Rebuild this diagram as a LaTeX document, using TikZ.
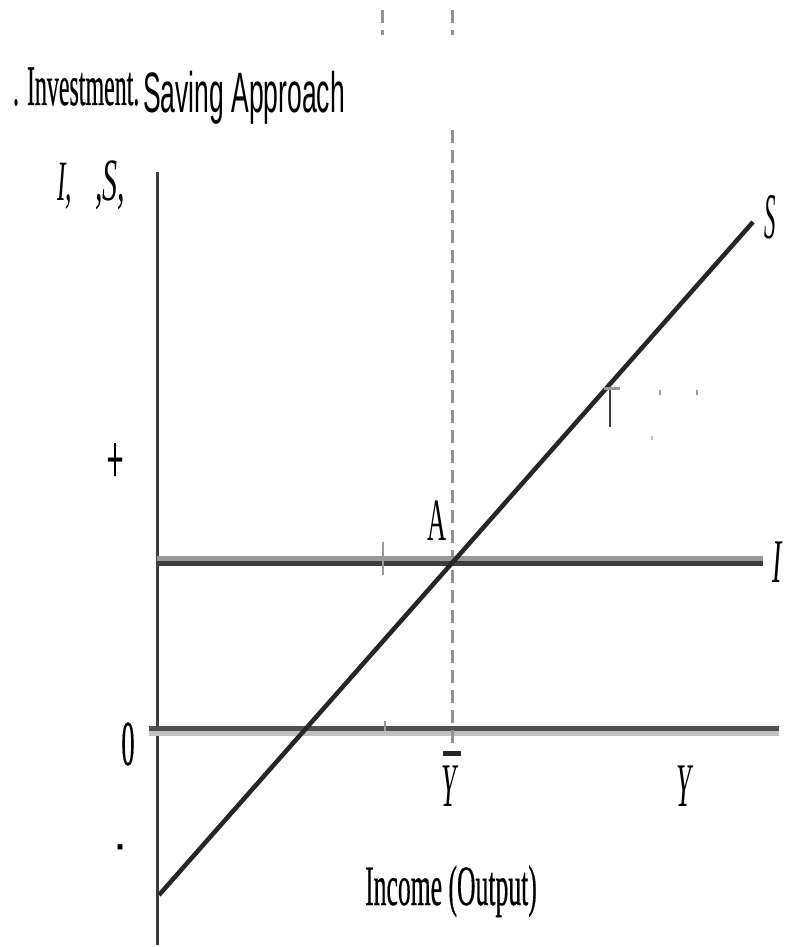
\documentclass[tikz,border=0pt]{standalone}
\usepackage{fontspec}
\setmainfont{Liberation Serif}
\newfontfamily\sansf{Liberation Sans}
\newfontfamily\serifheavy[FakeBold=0.6]{Liberation Serif}
\newcommand\cz[3]{\scalebox{#1}[1]{\fontsize{#2}{#2}\selectfont #3}}
\definecolor{darkln}{HTML}{3D3D3D}
\definecolor{lightln}{HTML}{9A9A9A}
\definecolor{paleln}{HTML}{C0C0C0}
\definecolor{sln}{HTML}{262626}
\tikzset{
  lbl/.style={inner sep=0pt, outer sep=0pt, anchor=base},
  dashln/.style={draw=lightln!95!black, line width=3pt, dash pattern=on 13pt off 7pt},
  tickln/.style={draw=lightln, line width=2pt},
}
\begin{document}
\begin{tikzpicture}[x=1pt,y=-1pt]
\useasboundingbox (0,0) rectangle (784,947);
% named coordinates
\coordinate (axT) at (157,172);
\coordinate (axB) at (157,945);
\coordinate (iL) at (157,0);
\coordinate (iR) at (763,0);
\coordinate (zL) at (149,0);
\coordinate (zR) at (779,0);
\coordinate (sA) at (159,895);
\coordinate (sB) at (753,222);
% vertical axis
\draw[darkln, line width=3pt] (axT) -- (axB);
% I line (gray top, dark bottom)
\draw[lightln, line width=5pt] (iL |- 0,558.5) -- (iR |- 0,558.5);
\draw[darkln, line width=5pt] (iL |- 0,563.5) -- (iR |- 0,563.5);
% zero line (dark top, pale bottom)
\draw[darkln!90, line width=5pt] (zL |- 0,728.5) -- (zR |- 0,728.5);
\draw[paleln, line width=5pt] (zL |- 0,733.5) -- (zR |- 0,733.5);
% dashed guide lines
\draw[dashln] (452,10) -- (452,35);
\draw[dashln] (452,130) -- (452,748);
\draw[dashln] (382,10) -- (382,35);
% small ticks
\draw[tickln] (383,542) -- (383,575);
\draw[tickln] (385,721) -- (385,731);
% S line
\draw[sln, line width=4.5pt] (sA) -- (sB);
% small mark on S line
\draw[darkln, line width=2pt] (610,387) -- (610,427);
\draw[lightln, line width=3pt] (604,388) -- (620,388);
\fill[lightln] (659,390) rectangle (661,395);
\fill[lightln] (696,390) rectangle (698,395);
\fill[lightln!60] (651,436) rectangle (653,440);
% bar over Y
\draw[sln, line width=5pt] (443,753.5) -- (461,753.5);
% labels
\node[lbl, anchor=base west] (t1) at (13,105) {\cz{0.42}{57pt}{\serifheavy . Investment.}};
\node[lbl, anchor=base west] (t2) at (143,113) {\cz{0.465}{57pt}{\sansf Saving Approach}};
\node[lbl, anchor=base west] (yl1) at (57,200) {\cz{0.45}{57pt}{\itshape I,}};
\node[lbl, anchor=base west] (yl2) at (95,200) {\cz{0.5}{60pt}{\itshape ,S,}};
\node[inner sep=0pt] (plus) at (115,463) {\cz{0.43}{70pt}{\serifheavy +}};
\node[lbl] (zero) at (128,765) {\cz{0.41}{64pt}{\serifheavy 0}};
\node[lbl] (minus) at (120,861) {\cz{0.3}{60pt}{\serifheavy -}};
\node[lbl] (ptA) at (437,540) {\cz{0.44}{60pt}{A}};
\node[lbl] (lS) at (770,238) {\cz{0.35}{65pt}{\itshape S}};
\node[lbl] (lI) at (777,582) {\cz{0.45}{62pt}{\itshape I}};
\node[lbl] (ybar) at (449,806) {\cz{0.43}{62pt}{\itshape Y}};
\node[lbl] (yax) at (684,806) {\cz{0.43}{62pt}{\itshape Y}};
\node[lbl] (xlab) at (451,905) {\cz{0.45}{57pt}{\serifheavy Income (Output)}};
\end{tikzpicture}
\end{document}
